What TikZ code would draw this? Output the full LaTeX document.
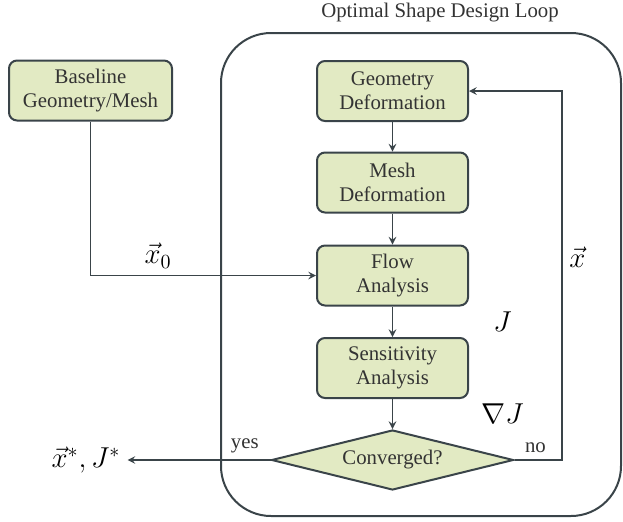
\documentclass[tikz,border=0pt]{standalone}
\usepackage{amsmath}
\usepackage{fontspec}
\setmainfont{Liberation Serif}
\usepackage{tikz}
\usetikzlibrary{shapes.geometric}
\definecolor{linegray}{HTML}{3A4449}
\definecolor{boxgreen}{HTML}{E2EAC3}
\definecolor{txtgray}{HTML}{333333}

\begin{document}
\begin{tikzpicture}[x=0.5pt, y=-0.5pt, >=stealth,
    block/.style={draw=linegray, line width=1pt, fill=boxgreen, rounded corners=4pt,
        minimum width=75.5pt, minimum height=30pt, inner sep=0pt, align=center,
        text=txtgray, font=\fontsize{10.4}{12}\selectfont},
    decision/.style={diamond, aspect=4, draw=linegray, line width=1pt, fill=boxgreen,
        minimum width=121pt, minimum height=30pt, inner sep=0pt,
        text=txtgray, font=\fontsize{10.4}{12}\selectfont},
    flow/.style={->, draw=linegray, line width=0.7pt},
    lbl/.style={text=txtgray, font=\fontsize{10.4}{12}\selectfont},
    mlbl/.style={font=\fontsize{14}{16}\selectfont}]
    \useasboundingbox (0,0) rectangle (623,521);
    % design loop frame and title
    \node[draw=linegray, line width=1pt, rounded corners=25pt,
        minimum width=200pt, minimum height=241.5pt] (loop) at (421,274.5) {};
    \node[lbl] (title) at (440,13) {Optimal Shape Design Loop};
    % blocks
    \node[block, minimum width=81.5pt] (base) at (90.5,90.5) {Baseline\\Geometry/Mesh};
    \node[block] (geo) at (392.5,91) {Geometry\\Deformation};
    \node[block] (mesh) at (392.5,182.5) {Mesh\\Deformation};
    \node[block] (flow) at (392.5,275.5) {Flow\\Analysis};
    \node[block] (sens) at (392.5,368) {Sensitivity\\Analysis};
    \node[decision] (conv) at (392.5,460) {Converged?};
    % result
    \node[mlbl] (result) at (86,460) {$\vec{x}^*, J^*$};
    \coordinate (back) at (562,460);
    % connectors
    \draw[flow] (geo) -- (mesh);
    \draw[flow] (mesh) -- (flow);
    \draw[flow] (flow) -- node[mlbl, xshift=55pt] {$J$} (sens);
    \draw[flow] (sens) -- node[mlbl, xshift=55pt] {$\nabla J$} (conv);
    \draw[flow] (base.south) |- (flow.west) node[mlbl, pos=0.65, above] {$\vec{x}_0$};
    \draw[flow] (conv.west) -- node[lbl, pos=0.18, above] {yes} (result);
    \draw[flow] (conv.east) -- node[lbl, pos=0.44, above] {no} (back)
        |- node[mlbl, pos=0.275, right] {$\vec{x}$} (geo.east);
\end{tikzpicture}
\end{document}
